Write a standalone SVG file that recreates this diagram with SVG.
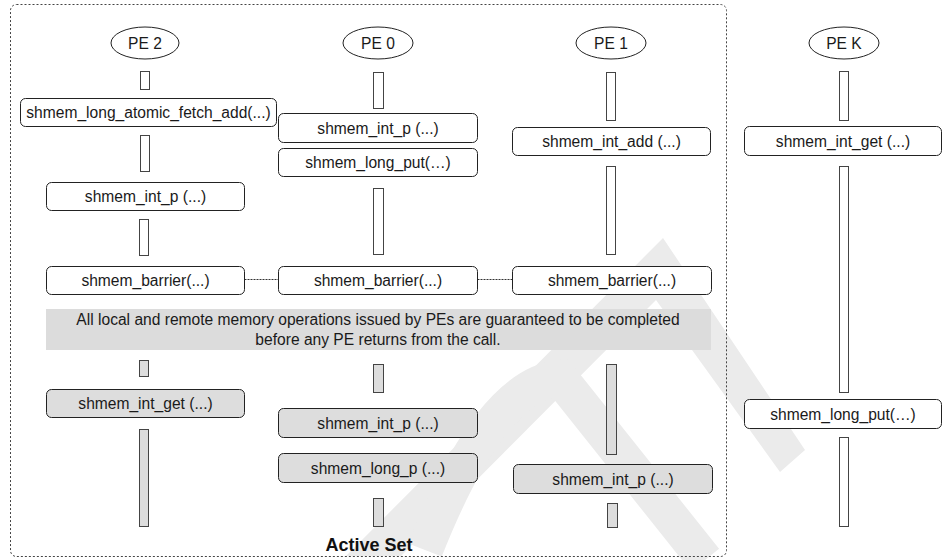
<svg xmlns="http://www.w3.org/2000/svg" width="943" height="560" viewBox="0 0 943 560">
<style>
text{font-family:"Liberation Sans",Arial,sans-serif;font-size:15.6px;fill:#1a1a1a;text-anchor:middle}
.box{fill:#fff;stroke:#222;stroke-width:1}
.gbox{fill:#dddddd;stroke:#222;stroke-width:1}
.bar{fill:#fff;stroke:#444;stroke-width:1}
.gbar{fill:#dddddd;stroke:#444;stroke-width:1}
.pe{fill:#fff;stroke:#222;stroke-width:1}
.dot{stroke:#333;stroke-width:1;stroke-dasharray:2 1;fill:none}
.wm{fill:#ebebeb}
</style>
<rect width="943" height="560" fill="#fff"/>
<g id="watermark">
<polygon class="wm" points="346,556 663,238 805,450 780,472 656,300 401,556"/>
<path d="M425 550 Q490 385 560 378 L705 560" fill="none" stroke="#ebebeb" stroke-width="36"/>
</g>
<g id="active-set">
<rect x="10.5" y="4.5" width="716" height="552" rx="6" fill="none" stroke="#444" stroke-width="1" stroke-dasharray="2 2"/>
<text x="369" y="551" style="font-weight:bold;font-size:18px;fill:#111">Active Set</text>
</g>
<g id="band">
<rect x="46" y="309" width="665" height="41" fill="#dcdcdc"/>
<text x="378" y="325">All local and remote memory operations issued by PEs are guaranteed to be completed</text>
<text x="378" y="344.5">before any PE returns from the call.</text>
</g>
<g id="connectors">
<line class="dot" x1="244.5" y1="279.5" x2="278.5" y2="279.5"/>
<line class="dot" x1="477.5" y1="279.5" x2="512.5" y2="279.5"/>
</g>
<g id="pe2">
<ellipse class="pe" cx="145" cy="43" rx="34" ry="16"/><text x="145" y="48.5">PE 2</text>
<rect class="bar" x="140.5" y="71.5" width="9" height="18"/>
<rect class="box" x="20.5" y="98.5" width="256" height="28" rx="5"/><text x="148.5" y="118">shmem_long_atomic_fetch_add(...)</text>
<rect class="bar" x="140.5" y="135.5" width="9" height="36"/>
<rect class="box" x="46.5" y="182.5" width="198" height="28" rx="5"/><text x="145.5" y="202">shmem_int_p (...)</text>
<rect class="bar" x="139.5" y="219.5" width="9" height="36"/>
<rect class="box" x="46.5" y="266.5" width="198" height="28" rx="5"/><text x="145.5" y="286">shmem_barrier(...)</text>
<rect class="gbar" x="139.5" y="360.5" width="9" height="16"/>
<rect class="gbox" x="46.5" y="389.5" width="198" height="28" rx="5"/><text x="145.5" y="409">shmem_int_get (...)</text>
<rect class="gbar" x="139.5" y="429.5" width="9" height="97"/>
</g>
<g id="pe0">
<ellipse class="pe" cx="378" cy="43" rx="35" ry="16"/><text x="378" y="48.5">PE 0</text>
<rect class="bar" x="373.5" y="72.5" width="10" height="36"/>
<rect class="box" x="278.5" y="113.5" width="199" height="29" rx="5"/><text x="378" y="133.5">shmem_int_p (...)</text>
<rect class="box" x="278.5" y="148.5" width="199" height="28" rx="5"/><text x="378" y="168">shmem_long_put(…)</text>
<rect class="bar" x="373.5" y="188.5" width="10" height="66"/>
<rect class="box" x="278.5" y="266.5" width="199" height="28" rx="5"/><text x="378" y="286">shmem_barrier(...)</text>
<rect class="gbar" x="373.5" y="364.5" width="10" height="28"/>
<rect class="gbox" x="278.5" y="408.5" width="199" height="29" rx="5"/><text x="378" y="428.5">shmem_int_p (...)</text>
<rect class="gbox" x="278.5" y="453.5" width="199" height="29" rx="5"/><text x="378" y="473.5">shmem_long_p (...)</text>
<rect class="gbar" x="373.5" y="498.5" width="10" height="28"/>
</g>
<g id="pe1">
<ellipse class="pe" cx="611" cy="43" rx="35" ry="16"/><text x="611" y="48.5">PE 1</text>
<rect class="bar" x="606.5" y="72.5" width="9" height="48"/>
<rect class="box" x="512.5" y="127.5" width="198" height="28" rx="5"/><text x="611.5" y="147">shmem_int_add (...)</text>
<rect class="bar" x="606.5" y="166.5" width="9" height="88"/>
<rect class="box" x="512.5" y="266.5" width="199" height="28" rx="5"/><text x="612" y="286">shmem_barrier(...)</text>
<rect class="gbar" x="606.5" y="364.5" width="10" height="90"/>
<rect class="gbox" x="513.5" y="464.5" width="199" height="29" rx="5"/><text x="613" y="484.5">shmem_int_p (...)</text>
<rect class="gbar" x="607.5" y="503.5" width="10" height="24"/>
</g>
<g id="pek">
<ellipse class="pe" cx="844" cy="43" rx="35" ry="16"/><text x="844" y="48.5">PE K</text>
<rect class="bar" x="839.5" y="71.5" width="9" height="49"/>
<rect class="box" x="744.5" y="126.5" width="197" height="29" rx="5"/><text x="843" y="146.5">shmem_int_get (...)</text>
<rect class="bar" x="839.5" y="166.5" width="9" height="226"/>
<rect class="box" x="744.5" y="399.5" width="197" height="29" rx="5"/><text x="843" y="419.5">shmem_long_put(…)</text>
<rect class="bar" x="839.5" y="437.5" width="9" height="89"/>
</g>
</svg>
